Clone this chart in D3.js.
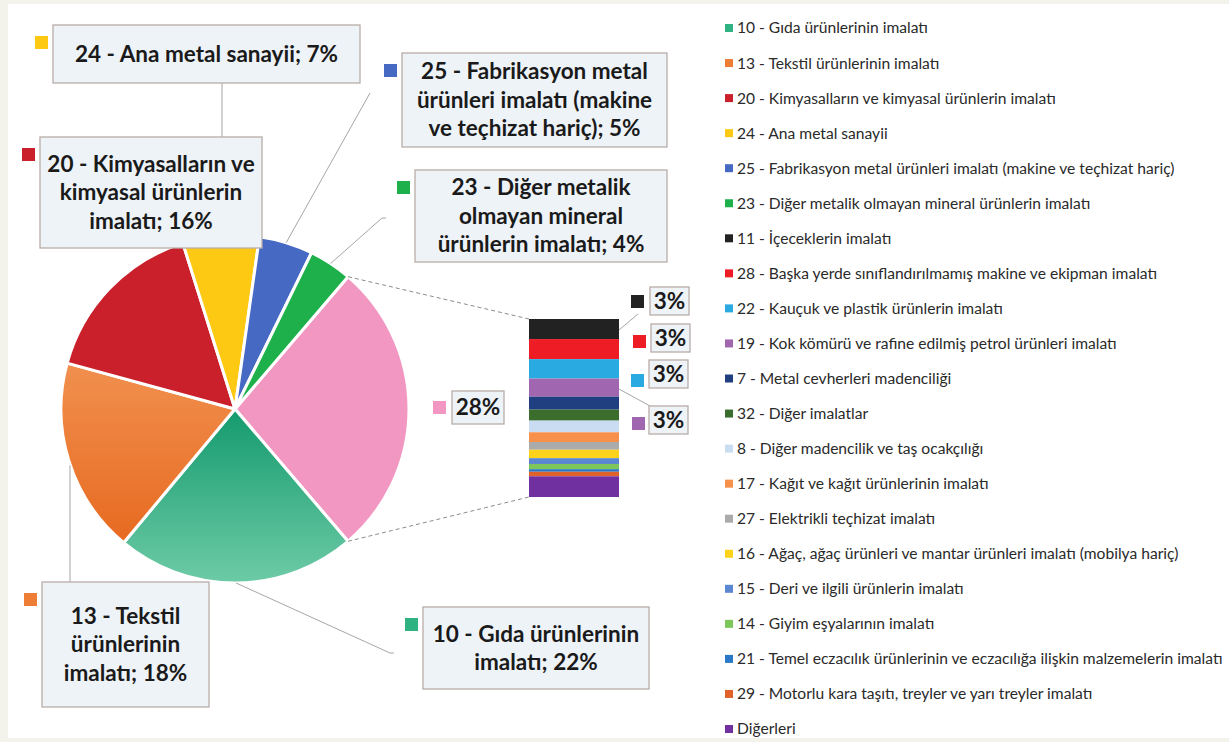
<!DOCTYPE html>
<html><head><meta charset="utf-8">
<script src="https://cdn.jsdelivr.net/npm/d3@7"></script>
<style>body{margin:0;background:#f3f3ec;} svg{display:block}</style>
</head><body><svg id="c" width="1229" height="742"></svg>
<script>
// ---------------- DATA ----------------
const pieCategories = [
  "10 - Gıda ürünlerinin imalatı",
  "13 - Tekstil ürünlerinin imalatı",
  "20 - Kimyasalların ve kimyasal ürünlerin imalatı",
  "24 - Ana metal sanayii",
  "25 - Fabrikasyon metal ürünleri imalatı (makine ve teçhizat hariç)",
  "23 - Diğer metalik olmayan mineral ürünlerin imalatı"
];
const pieValues = [22.3, 18.2, 15.9, 7.1, 5.0, 4.0];
const pieColors = ["#2fb383", "#ee7d35", "#c9202b", "#fdc913", "#4669c3", "#1eb04a"];

const barCategories = [
  "11 - İçeceklerin imalatı",
  "28 - Başka yerde sınıflandırılmamış makine ve ekipman imalatı",
  "22 - Kauçuk ve plastik ürünlerin imalatı",
  "19 - Kok kömürü ve rafine edilmiş petrol ürünleri imalatı",
  "7 - Metal cevherleri madenciliği",
  "32 - Diğer imalatlar",
  "8 - Diğer madencilik ve taş ocakçılığı",
  "17 - Kağıt ve kağıt ürünlerinin imalatı",
  "27 - Elektrikli teçhizat imalatı",
  "16 - Ağaç, ağaç ürünleri ve mantar ürünleri imalatı (mobilya hariç)",
  "15 - Deri ve ilgili ürünlerin imalatı",
  "14 - Giyim eşyalarının imalatı",
  "21 - Temel eczacılık ürünlerinin ve eczacılığa ilişkin malzemelerin imalatı",
  "29 - Motorlu kara taşıtı, treyler ve yarı treyler imalatı",
  "Diğerleri"
];
const barValues = [3.1, 3.1, 3.0, 2.8, 2.0, 1.7, 1.8, 1.5, 1.2, 1.3, 0.9, 0.8, 0.4, 0.7, 3.2];
const barColors = ["#222222", "#ee1c25", "#29abe2", "#a066b0", "#1f3f80", "#3b6e2c", "#c9dcf1",
  "#f7904a", "#ababab", "#fcd21a", "#5b87d0", "#7cc65a", "#2a78c8", "#e0622a", "#7030a0"];
const otherColor = "#f297c1";

// ---------------- LAYOUT ----------------
const svg = d3.select("#c");
svg.append("rect").attr("x", 8).attr("y", 4).attr("width", 1229).attr("height", 734).attr("fill", "#ffffff");

const defs = svg.append("defs");
function vgrad(id, c1, c2) {
  const g = defs.append("linearGradient").attr("id", id).attr("x1", 0).attr("y1", 0).attr("x2", 0).attr("y2", 1);
  g.append("stop").attr("offset", "0%").attr("stop-color", c1);
  g.append("stop").attr("offset", "100%").attr("stop-color", c2);
  return `url(#${id})`;
}
const pieFills = [
  vgrad("g0", "#159a6e", "#6dcba7"),
  vgrad("g1", "#f1904f", "#e76a20"),
  pieColors[2], pieColors[3], pieColors[4], pieColors[5]
];

const r1 = v => Math.round(v * 10) / 10;
const otherValue = r1(d3.sum(barValues));
const pieData = [{name: "other", value: otherValue, fill: otherColor}]
  .concat(pieCategories.map((n, i) => ({name: n, value: pieValues[i], fill: pieFills[i], color: pieColors[i]})));

const cx = 235, cy = 409, R = 174;
const total = d3.sum(pieData, d => d.value);
const half = otherValue / total * Math.PI; // half angle of "other" slice
const start = Math.PI / 2 - half;
const pie = d3.pie().sort(null).value(d => d.value).startAngle(start).endAngle(start + 2 * Math.PI);
const arcs = pie(pieData);
const arc = d3.arc().innerRadius(0).outerRadius(R);
const pt = (a, r) => [cx + r * Math.sin(a), cy - r * Math.cos(a)];
const pctText = v => Math.round(r1(v / total * 100)) + "%";

const gPie = svg.append("g");

// bar geometry
const barX = 529, barW = 90, barTop = 319, barBot = 497;
const y = d3.scaleLinear().domain([0, otherValue]).range([barTop, barBot]);
let acc = 0;
const stack = barValues.map((v, i) => { const s = {y0: acc, y1: acc + v, color: barColors[i], name: barCategories[i], value: v}; acc += v; return s; });

// dashed series lines
const oA = arcs[0];
const p1 = pt(oA.startAngle, R), p2 = pt(oA.endAngle, R);
svg.append("line").attr("x1", p1[0]).attr("y1", p1[1]).attr("x2", barX).attr("y2", y(0))
  .attr("stroke", "#8c8c8c").attr("stroke-width", 1).attr("stroke-dasharray", "4,3");
svg.append("line").attr("x1", p2[0]).attr("y1", p2[1]).attr("x2", barX).attr("y2", y(otherValue))
  .attr("stroke", "#8c8c8c").attr("stroke-width", 1).attr("stroke-dasharray", "4,3");

// leader lines (drawn before labels)
const leaderColor = "#a6a6a6";
const labelCfg = {
  "24 - Ana metal sanayii": {box: [53, 25, 307, 58], end: [[222, 83]]},
  "20 - Kimyasalların ve kimyasal ürünlerin imalatı": {box: [40, 137, 222, 111], end: null},
  "25 - Fabrikasyon metal ürünleri imalatı (makine ve teçhizat hariç)": {box: [402, 53, 265, 94], end: [[370, 93]]},
  "23 - Diğer metalik olmayan mineral ürünlerin imalatı": {box: [415, 170, 252, 92], end: [[382, 218], [386, 218]]},
  "10 - Gıda ürünlerinin imalatı": {box: [423, 607, 226, 82], end: [[390, 653], [394, 653]]},
  "13 - Tekstil ürünlerinin imalatı": {box: [42, 582, 167, 125], end: [[70, 582]]},
  "other": {box: [452, 391, 52, 33], end: null}
};

arcs.forEach(a => {
  const cfg = labelCfg[a.data.name];
  if (!cfg || !cfg.end) return;
  const mid = (a.startAngle + a.endAngle) / 2;
  const s = pt(mid, R);
  const e = cfg.end[0];
  let pts = [s];
  if (a.data.name.startsWith("13")) pts = [[e[0], pt(mid, R)[1] + 4]];
  if (a.data.name.startsWith("24")) pts = [[e[0], s[1]]];
  pts = pts.concat(cfg.end);
  svg.append("path").attr("d", d3.line()(pts)).attr("fill", "none").attr("stroke", leaderColor).attr("stroke-width", 1);
});

// pie slices
gPie.selectAll("path").data(arcs).join("path")
  .attr("transform", `translate(${cx},${cy})`)
  .attr("d", arc)
  .attr("fill", d => d.data.fill)
  .attr("stroke", "#ffffff").attr("stroke-width", 3).attr("stroke-linejoin", "round");

// bar stripes
svg.append("g").selectAll("rect").data(stack).join("rect")
  .attr("x", barX).attr("width", barW)
  .attr("y", d => y(d.y0)).attr("height", d => y(d.y1) - y(d.y0))
  .attr("fill", d => d.color);

// bar leaders
const barLeaders = {0: [[619, 330], [638, 314]], 3: [[619, 389], [650, 406]]};
Object.entries(barLeaders).forEach(([i, p]) => {
  svg.append("path").attr("d", d3.line()(p)).attr("fill", "none").attr("stroke", leaderColor).attr("stroke-width", 1);
});

// ---------------- LABELS ----------------
const boxFill = "#eef3f8", boxStroke = "#b9aca8";
const labelFont = "Lato, 'Open Sans', sans-serif";
const labelSize = 22.5;

function wrapLines(text, maxW, size) {
  const tmp = svg.append("text").attr("font-family", labelFont).attr("font-weight", 700).attr("font-size", size);
  const words = text.split(" ");
  const lines = []; let cur = "";
  words.forEach(w => {
    const t = cur ? cur + " " + w : w;
    tmp.text(t);
    if (tmp.node().getComputedTextLength() > maxW && cur) { lines.push(cur); cur = w; } else cur = t;
  });
  lines.push(cur);
  tmp.remove();
  return lines;
}

function drawLabel(box, text, color, sqPos) {
  const [bx, by, bw, bh] = box;
  svg.append("rect").attr("x", bx).attr("y", by).attr("width", bw).attr("height", bh)
    .attr("fill", boxFill).attr("stroke", boxStroke).attr("stroke-width", 1.3);
  svg.append("rect").attr("x", sqPos[0]).attr("y", sqPos[1]).attr("width", 13).attr("height", 13).attr("fill", color);
  const lh = 28.5;
  const lines = wrapLines(text, bw - 8, labelSize);
  const t = svg.append("text").attr("font-family", labelFont).attr("font-weight", 700).attr("font-size", labelSize)
    .attr("fill", "#1a1a1a").attr("text-anchor", "middle");
  const cyb = by + bh / 2 - (lines.length - 1) * lh / 2;
  lines.forEach((l, i) => t.append("tspan").attr("x", bx + bw / 2).attr("y", cyb + i * lh).attr("dy", "0.35em").text(l));
}

arcs.forEach(a => {
  const cfg = labelCfg[a.data.name];
  const pct = pctText(a.data.value);
  const [bx, by] = cfg.box;
  if (a.data.name === "other") {
    drawLabel(cfg.box, pct, otherColor, [433, 401]);
  } else {
    drawLabel(cfg.box, a.data.name + "; " + pct, a.data.color, [bx - 18, by + 11]);
  }
});

// bar labels (top four stripes)
const barLabelBoxes = [[650, 287, 39, 28], [651, 324, 39, 28], [649, 360, 39, 28], [649, 406, 39, 28]];
const barLabelSq = [[631, 295], [633, 335], [631, 374], [632, 417]];
barLabelBoxes.forEach((b, i) => {
  drawLabel(b, pctText(barValues[i]), barColors[i], barLabelSq[i]);
});

// ---------------- LEGEND ----------------
const legendItems = pieCategories.map((n, i) => ({name: n, color: pieColors[i]}))
  .concat(barCategories.map((n, i) => ({name: n, color: barColors[i]})));
const lg = svg.append("g").attr("transform", "translate(725,28)");
const li = lg.selectAll("g").data(legendItems).join("g").attr("transform", (d, i) => `translate(0,${i * 35.05})`);
li.append("rect").attr("x", 0).attr("y", -4).attr("width", 8).attr("height", 8).attr("fill", d => d.color);
li.append("text").attr("x", 12).attr("y", 0).attr("dy", "0.35em")
  .attr("font-family", labelFont).attr("font-size", 15.6).attr("fill", "#2a2a2a").text(d => d.name);
</script></body></html>
